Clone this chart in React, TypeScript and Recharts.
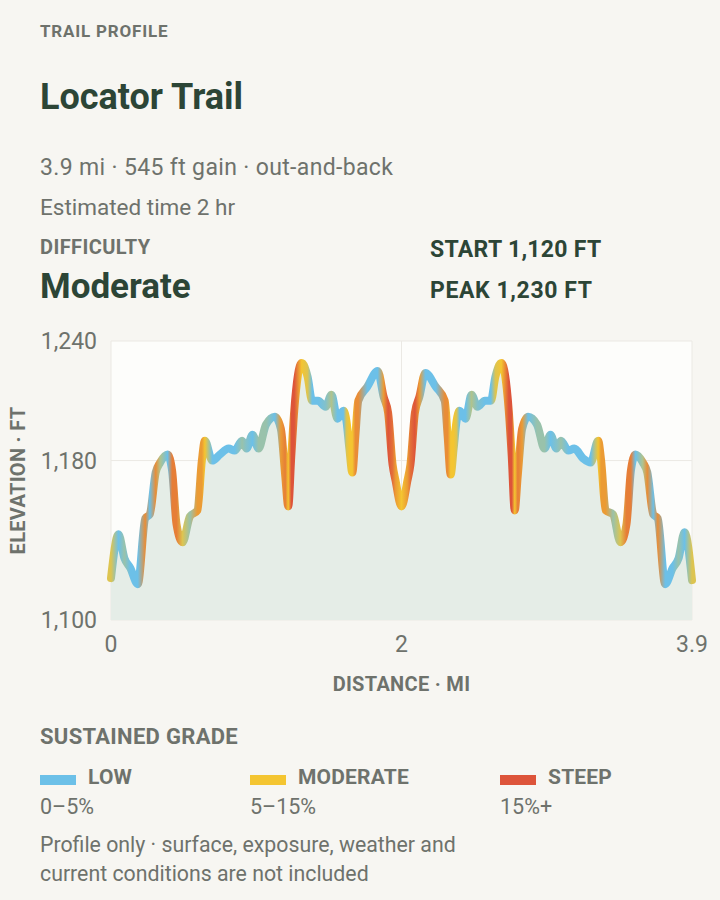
import { ComposedChart, Area, Line, XAxis, YAxis, CartesianGrid } from 'recharts';

// distance along the trail (mi), out to the turnaround at 1.95 and back
const DIST = [
  0, 0.05, 0.09, 0.13, 0.18, 0.23, 0.26, 0.3, 0.33, 0.38,
  0.41, 0.44, 0.48, 0.53, 0.58, 0.61, 0.63, 0.68, 0.73, 0.79,
  0.83, 0.88, 0.91, 0.95, 0.99, 1.04, 1.1, 1.14, 1.17, 1.19,
  1.21, 1.23, 1.28, 1.32, 1.35, 1.39, 1.44, 1.48, 1.52, 1.56,
  1.58, 1.6, 1.62, 1.64, 1.66, 1.72, 1.79, 1.83, 1.86, 1.89,
  1.91, 1.95,
  1.99, 2.01, 2.04, 2.07, 2.11, 2.18, 2.24, 2.26, 2.28, 2.3,
  2.32, 2.34, 2.38, 2.42, 2.46, 2.51, 2.55, 2.58, 2.62, 2.67,
  2.69, 2.71, 2.73, 2.76, 2.8, 2.86, 2.91, 2.95, 2.99, 3.02,
  3.07, 3.11, 3.17, 3.22, 3.27, 3.29, 3.32, 3.37, 3.42, 3.46,
  3.49, 3.52, 3.57, 3.6, 3.64, 3.67, 3.72, 3.77, 3.81, 3.85,
  3.9,
];

// elevation (ft)
const ELEV = [
  1121, 1143, 1131, 1126, 1118, 1151, 1153, 1174, 1179, 1183,
  1175, 1148, 1139, 1152, 1155, 1180, 1190, 1180, 1183, 1186,
  1185, 1190, 1186, 1193, 1186, 1198, 1202, 1196, 1172, 1157,
  1182, 1205, 1229, 1222, 1210, 1210, 1207, 1213, 1201, 1205,
  1200, 1186, 1174, 1192, 1210, 1217, 1225, 1212, 1204, 1178,
  1170, 1157,
  1170, 1178, 1204, 1212, 1224, 1217, 1210, 1192, 1173, 1186,
  1200, 1205, 1201, 1213, 1207, 1210, 1210, 1222, 1229, 1205,
  1182, 1155, 1172, 1196, 1202, 1198, 1186, 1193, 1186, 1190,
  1185, 1186, 1181, 1179, 1190, 1180, 1155, 1153, 1139, 1148,
  1175, 1183, 1179, 1174, 1153, 1151, 1118, 1126, 1131, 1144,
  1120,
];

// sustained grade (%) at each point
const GRADE = [
  9, 4, 6, 3, 2, 14, 3, 14, 7, 3,
  15, 15, 9, 6, 13, 13, 10, 4, 2, 2,
  4, 6, 5, 4, 6, 6, 4, 13, 15, 10,
  20, 20, 10, 9, 4, 4, 5, 7, 4, 4,
  9, 10, 10, 14, 14, 4, 3, 13, 18, 16,
  13, 10,
  13, 16, 18, 13, 3, 4, 14, 14, 10, 10,
  9, 4, 4, 7, 5, 4, 4, 9, 10, 20,
  20, 10, 15, 13, 4, 6, 6, 4, 5, 6,
  4, 2, 2, 4, 10, 13, 13, 6, 9, 15,
  15, 3, 7, 14, 3, 14, 2, 3, 6, 4,
  9,
];

const X_TICKS = [0, 1.95, 3.9];
const X_TICK_LABELS = ['0', '2', '3.9'];
const Y_TICKS = [1100, 1180, 1240];

const BAND_NAMES = ['LOW', 'MODERATE', 'STEEP'];
const BAND_RANGES = ['0–5%', '5–15%', '15%+'];
const BAND_COLORS = ['#6cc0e8', '#f4c531', '#dd543a'];

const data = DIST.map((d, i) => ({ dist: d, elev: ELEV[i], grade: GRADE[i] }));

const DARK = '#2c4536';
const GREY = '#6e726c';
const FONT = 'Roboto, "Noto Sans", sans-serif';

const hexToRgb = (h: string) => [1, 3, 5].map((i) => parseInt(h.slice(i, i + 2), 16));
const mix = (a: string, b: string, t: number) => {
  const ca = hexToRgb(a);
  const cb = hexToRgb(b);
  return `rgb(${ca.map((v, i) => Math.round(v + (cb[i] - v) * t)).join(',')})`;
};
// blue up to 4%, yellow at 10%, red from 18%
const gradeColor = (g: number) => {
  if (g <= 4) return BAND_COLORS[0];
  if (g <= 10) return mix(BAND_COLORS[0], BAND_COLORS[1], (g - 4) / 6);
  if (g <= 18) return mix(BAND_COLORS[1], BAND_COLORS[2], (g - 10) / 8);
  return BAND_COLORS[2];
};

const Txt = ({ top, left = 40, size, weight = 400, color = GREY, lh = 30, ls = 0, children }: any) => (
  <div
    style={{
      position: 'absolute',
      left,
      top: top - lh / 2,
      lineHeight: `${lh}px`,
      fontSize: size,
      fontWeight: weight,
      letterSpacing: ls,
      color,
      whiteSpace: 'nowrap',
    }}
  >
    {children}
  </div>
);

const maxDist = DIST[DIST.length - 1];

export default function App() {
  return (
    <div style={{ position: 'relative', width: 720, height: 900, background: '#f7f6f2', fontFamily: FONT }}>
      <style>{`body{margin:0;background:#f7f6f2}`}</style>

      <Txt top={31} size={17} weight={700} ls={0.8}>TRAIL PROFILE</Txt>
      <Txt top={97} size={36} weight={700} color={DARK} lh={44}>Locator Trail</Txt>
      <Txt top={168} size={23} ls={0.35}>3.9 mi · 545 ft gain · out-and-back</Txt>
      <Txt top={207} size={22.5}>Estimated time 2 hr</Txt>
      <Txt top={247} size={20} weight={700} ls={0.4}>DIFFICULTY</Txt>
      <Txt top={287} size={35} weight={700} color={DARK} lh={44}>Moderate</Txt>
      <Txt top={250} left={430} size={23} weight={700} color={DARK} ls={0.3}>START 1,120 FT</Txt>
      <Txt top={291} left={430} size={23} weight={700} color={DARK} ls={0.6}>PEAK 1,230 FT</Txt>

      <div style={{ position: 'absolute', left: 0, top: 320 }}>
        <ComposedChart width={720} height={380} data={data} margin={{ top: 21, right: 28, bottom: 0, left: 0 }}>
          <defs>
            <linearGradient id="gradeLine" x1="0" y1="0" x2="1" y2="0">
              {data.map((p, i) => (
                <stop key={i} offset={p.dist / maxDist} stopColor={gradeColor(p.grade)} />
              ))}
            </linearGradient>
          </defs>
          <CartesianGrid stroke="#ebe9e4" fill="#fdfdfb" />
          <XAxis
            dataKey="dist"
            type="number"
            domain={[0, maxDist]}
            ticks={X_TICKS}
            interval={0}
            tickFormatter={(v: number) => X_TICK_LABELS[X_TICKS.indexOf(v)]}
            axisLine={false}
            tickLine={false}
            tickMargin={10}
            height={80}
            tick={{ fill: GREY, fontSize: 23, fontFamily: FONT }}
            label={({ viewBox }: any) => (
              <text
                x={viewBox.x + viewBox.width / 2}
                y={viewBox.y + 64}
                textAnchor="middle"
                dominantBaseline="central"
                fill={GREY}
                fontSize={20}
                fontWeight={700}
                fontFamily={FONT}
                letterSpacing={0.3}
              >
                DISTANCE · MI
              </text>
            )}
          />
          <YAxis
            type="number"
            domain={[1100, 1240]}
            ticks={Y_TICKS}
            interval={0}
            tickFormatter={(v: number) => v.toLocaleString('en-US')}
            axisLine={false}
            tickLine={false}
            tickMargin={8}
            width={111}
            tick={{ fill: GREY, fontSize: 23, fontFamily: FONT }}
            label={({ viewBox }: any) => {
              const cx = 18;
              const cy = viewBox.y + viewBox.height / 2;
              return (
                <text
                  x={cx}
                  y={cy}
                  transform={`rotate(-90 ${cx} ${cy})`}
                  textAnchor="middle"
                  dominantBaseline="central"
                  fill={GREY}
                  fontSize={20}
                  fontWeight={700}
                  fontFamily={FONT}
                  letterSpacing={0.3}
                >
                  ELEVATION · FT
                </text>
              );
            }}
          />
          <Area
            dataKey="elev"
            type="monotone"
            stroke="none"
            fill="#e5ede7"
            fillOpacity={1}
            isAnimationActive={false}
          />
          <Line
            dataKey="elev"
            type="monotone"
            stroke="url(#gradeLine)"
            strokeWidth={8}
            strokeLinecap="round"
            strokeLinejoin="round"
            dot={false}
            activeDot={false}
            isAnimationActive={false}
          />
        </ComposedChart>
      </div>

      <Txt top={737} size={22} weight={700} ls={0.3}>SUSTAINED GRADE</Txt>
      {BAND_NAMES.map((name, i) => {
        const left = [40, 250, 500][i];
        return (
          <div key={name}>
            <div style={{ position: 'absolute', left, top: 775, width: 36, height: 10, background: BAND_COLORS[i] }} />
            <Txt top={777} left={left + 48} size={21} weight={700} ls={0.2}>{name}</Txt>
            <Txt top={807} left={left} size={21.5}>{BAND_RANGES[i]}</Txt>
          </div>
        );
      })}
      <Txt top={845} size={21.3}>Profile only · surface, exposure, weather and</Txt>
      <Txt top={874} size={21.3}>current conditions are not included</Txt>
    </div>
  );
}
